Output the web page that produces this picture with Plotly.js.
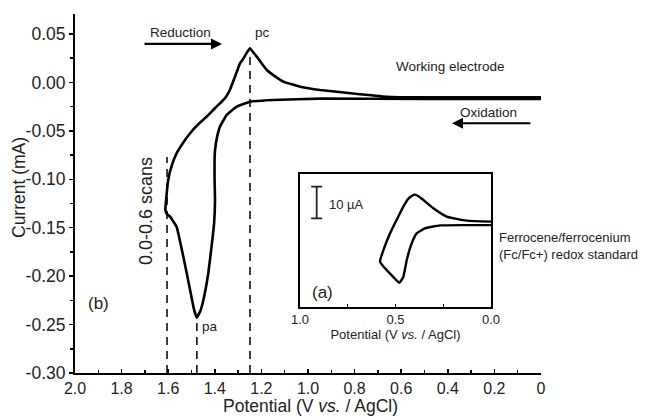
<!DOCTYPE html>
<html>
<head>
<meta charset="utf-8">
<script src="https://cdn.plot.ly/plotly-3.0.1.min.js"></script>
<style>
  html, body { margin: 0; padding: 0; background: #fff; }
  #chart { width: 655px; height: 417px; }
</style>
</head>
<body>
<div id="chart"></div>
<script>
// ---- Main cyclic voltammogram (b): potential (V vs. AgCl) and current (mA)
const mainPotential = [
  0.00, 0.50, 0.662, 0.807, 0.948, 1.034, 1.07, 1.106, 1.14, 1.177, 1.20, 1.22, 1.235, 1.249,
  1.262, 1.276, 1.292, 1.31, 1.335, 1.355, 1.378, 1.405, 1.435, 1.47, 1.506, 1.535, 1.564,
  1.585, 1.600, 1.609, 1.612, 1.605, 1.592, 1.564, 1.535, 1.506, 1.492, 1.478,
  1.462, 1.449, 1.428, 1.414, 1.403, 1.399, 1.401, 1.401, 1.399, 1.390, 1.378,
  1.349, 1.306, 1.249, 1.149, 0.948, 0.50, 0.00
];
const mainCurrent = [
  -0.0155, -0.0155, -0.0148, -0.0115, -0.0078, -0.0044, -0.002, 0.0008, 0.006, 0.0128, 0.020, 0.0266, 0.031, 0.0352,
  0.031, 0.025, 0.0197, 0.008, -0.0076, -0.016, -0.0216, -0.028, -0.0354, -0.043, -0.0525, -0.062, -0.0732,
  -0.086, -0.1007, -0.1214, -0.1317, -0.136, -0.1386, -0.149, -0.180, -0.2143, -0.2315, -0.2429,
  -0.236, -0.2246, -0.197, -0.1696, -0.1455, -0.1214, -0.100, -0.080, -0.0698, -0.056, -0.0457,
  -0.0336, -0.0251, -0.0199, -0.0182, -0.0168, -0.0170, -0.0172
];

// ---- Dashed marker lines: potentials and the current they reach up to
const markerPotential = [1.605, 1.477, 1.249];
const markerTop = [-0.077, -0.243, 0.034];
const axisBottom = -0.30;

// ---- Inset (a): ferrocene/ferrocenium standard, potential (V) and current (µA, relative)
const insetPotential = [
  0.000, 0.127, 0.232, 0.302, 0.354, 0.380, 0.398, 0.415, 0.433, 0.459, 0.485, 0.520, 0.550, 0.581,
  0.555, 0.512, 0.480, 0.459, 0.441, 0.415, 0.389, 0.346, 0.267, 0.127, 0.000
];
const insetCurrent = [
  -0.2, 0.1, 1.4, 4.0, 6.6, 7.8, 8.3, 7.9, 7.0, 4.5, 1.4, -2.8, -7.0, -12.8,
  -14.9, -17.6, -19.5, -17.6, -12.3, -7.0, -3.9, -2.3, -1.4, -1.3, -1.3
];
// 10 µA scale bar
const scaleBarPotential = [0.9126];
const scaleBarCenter = [5.85];
const scaleBarHalf = [5];

// ---- Tick labels
const xTickVals = [2.0, 1.8, 1.6, 1.4, 1.2, 1.0, 0.8, 0.6, 0.4, 0.2, 0.0];
const xTickText = ['2.0', '1.8', '1.6', '1.4', '1.2', '1.0', '0.8', '0.6', '0.4', '0.2', '0'];
const yTickVals = [0.05, 0.00, -0.05, -0.10, -0.15, -0.20, -0.25, -0.30];
const yTickText = ['0.05', '0.00', '-0.05', '-0.10', '-0.15', '-0.20', '-0.25', '-0.30'];
const insetTickVals = [1.0, 0.5, 0.0];
const insetTickText = ['1.0', '0.5', '0.0'];

const FONT = '"Liberation Sans", Arial, Helvetica, sans-serif';
const TXT = '#222';

const traces = [];
markerPotential.forEach((v, i) => {
  traces.push({
    x: [v, v], y: [axisBottom, markerTop[i]],
    type: 'scatter', mode: 'lines',
    line: { color: '#111', width: 1.6, dash: '8px,6px' },
    hoverinfo: 'skip', showlegend: false
  });
});
traces.push({
  x: mainPotential, y: mainCurrent,
  type: 'scatter', mode: 'lines',
  line: { color: '#000', width: 2.6, shape: 'spline', smoothing: 0.3 },
  showlegend: false
});
traces.push({
  x: insetPotential, y: insetCurrent,
  xaxis: 'x2', yaxis: 'y2',
  type: 'scatter', mode: 'lines',
  line: { color: '#000', width: 2.4, shape: 'spline', smoothing: 0.4 },
  showlegend: false
});
traces.push({
  x: scaleBarPotential, y: scaleBarCenter,
  xaxis: 'x2', yaxis: 'y2',
  type: 'scatter', mode: 'markers',
  marker: { size: 1, color: '#222' },
  error_y: { type: 'data', array: scaleBarHalf, visible: true, color: '#222', thickness: 1.8, width: 5.5 },
  showlegend: false
});

const layout = {
  width: 655, height: 417,
  margin: { l: 75, r: 114, t: 14, b: 44, pad: 0 },
  paper_bgcolor: '#fff', plot_bgcolor: 'rgba(0,0,0,0)',
  font: { family: FONT, color: TXT, size: 15 },
  showlegend: false,
  xaxis: {
    range: [2.0, 0.0], autorange: false,
    domain: [0, 1],
    showline: true, linecolor: '#000', linewidth: 2,
    showgrid: false, zeroline: false,
    tickmode: 'array', tickvals: xTickVals, ticktext: xTickText,
    ticks: 'inside', ticklen: 4, tickwidth: 1.5, tickcolor: '#000',
    minor: { ticks: 'inside', dtick: 0.1, tick0: 0, ticklen: 3, tickwidth: 1.5, tickcolor: '#000', showgrid: false },
    tickfont: { family: FONT, size: 16, color: TXT },
    automargin: false
  },
  yaxis: {
    range: [-0.30, 0.0706], autorange: false,
    domain: [0, 1],
    showline: true, linecolor: '#000', linewidth: 2,
    showgrid: false, zeroline: false,
    tickmode: 'array', tickvals: yTickVals, ticktext: yTickText,
    ticks: 'outside', ticklen: 4, tickwidth: 1.5, tickcolor: '#000',
    minor: { ticks: 'outside', dtick: 0.025, tick0: 0, ticklen: 3, tickwidth: 1.5, tickcolor: '#000', showgrid: false },
    tickfont: { family: FONT, size: 17.5, color: TXT },
    automargin: false
  },
  xaxis2: {
    anchor: 'y2', domain: [0.4828, 0.8927],
    range: [1.0, 0.0], autorange: false,
    showline: true, mirror: true, linecolor: '#000', linewidth: 2,
    showgrid: false, zeroline: false,
    tickmode: 'array', tickvals: insetTickVals, ticktext: insetTickText,
    ticks: 'inside', ticklen: 3, tickwidth: 1.2, tickcolor: '#000',
    minor: { ticks: 'inside', dtick: 0.25, tick0: 0, ticklen: 3, tickwidth: 1.2, tickcolor: '#000', showgrid: false },
    tickfont: { family: FONT, size: 13, color: TXT },
    title: { text: 'Potential (V <i>vs.</i> / AgCl)', font: { family: FONT, size: 13, color: TXT }, standoff: 0 },
    automargin: false
  },
  yaxis2: {
    anchor: 'x2', domain: [0.1847, 0.5543],
    range: [-27, 14.8], autorange: false,
    showline: true, mirror: true, linecolor: '#000', linewidth: 2,
    showgrid: false, zeroline: false,
    showticklabels: false, ticks: '',
    automargin: false
  },
  annotations: [
    { xref: 'paper', yref: 'paper', x: (19 - 75) / 466, y: (373 - 188) / 359, text: 'Current (mA)',
      showarrow: false, font: { size: 17.5 }, textangle: -90, xanchor: 'center', yanchor: 'middle' },
    { xref: 'paper', yref: 'paper', x: (310 - 75) / 466, y: (373 - 417) / 359, text: 'Potential (V <i>vs.</i> / AgCl)',
      showarrow: false, font: { size: 17.5 }, xanchor: 'center', yanchor: 'bottom', borderpad: 0 },
    { xref: 'x', yref: 'y', x: 1.369, y: 0.0397, ax: 1.708, ay: 0.0397, axref: 'x', ayref: 'y',
      showarrow: true, arrowhead: 2, arrowsize: 1, arrowwidth: 2.2, arrowcolor: '#000', text: '' },
    { xref: 'x', yref: 'y', x: 0.382, y: -0.0422, ax: 0.039, ay: -0.0422, axref: 'x', ayref: 'y',
      showarrow: true, arrowhead: 2, arrowsize: 1, arrowwidth: 2.2, arrowcolor: '#000', text: '' },
    { xref: 'paper', yref: 'paper', x: (180 - 75) / 466, y: (373 - 33) / 359, text: 'Reduction',
      showarrow: false, font: { size: 13.5 }, xanchor: 'center', yanchor: 'middle' },
    { xref: 'paper', yref: 'paper', x: (262 - 75) / 466, y: (373 - 33) / 359, text: 'pc',
      showarrow: false, font: { size: 13.5 }, xanchor: 'center', yanchor: 'middle' },
    { xref: 'paper', yref: 'paper', x: (450 - 75) / 466, y: (373 - 66) / 359, text: 'Working electrode',
      showarrow: false, font: { size: 13.5 }, xanchor: 'center', yanchor: 'middle' },
    { xref: 'paper', yref: 'paper', x: (488 - 75) / 466, y: (373 - 112) / 359, text: 'Oxidation',
      showarrow: false, font: { size: 13.5 }, xanchor: 'center', yanchor: 'middle' },
    { xref: 'paper', yref: 'paper', x: (146 - 75) / 466, y: (373 - 211) / 359, text: '0.0-0.6 scans',
      showarrow: false, font: { size: 18 }, textangle: -90, xanchor: 'center', yanchor: 'middle' },
    { xref: 'paper', yref: 'paper', x: (98 - 75) / 466, y: (373 - 303) / 359, text: '(b)',
      showarrow: false, font: { size: 17 }, xanchor: 'center', yanchor: 'middle' },
    { xref: 'paper', yref: 'paper', x: (210 - 75) / 466, y: (373 - 326) / 359, text: 'pa',
      showarrow: false, font: { size: 13.5 }, xanchor: 'center', yanchor: 'middle' },
    { xref: 'paper', yref: 'paper', x: (346 - 75) / 466, y: (373 - 204) / 359, text: '10 µA',
      showarrow: false, font: { size: 13 }, xanchor: 'center', yanchor: 'middle' },
    { xref: 'paper', yref: 'paper', x: (322 - 75) / 466, y: (373 - 292) / 359, text: '(a)',
      showarrow: false, font: { size: 17 }, xanchor: 'center', yanchor: 'middle' },
    { xref: 'paper', yref: 'paper', x: (497 - 75) / 466, y: (373 - 246) / 359,
      text: 'Ferrocene/ferrocenium<br>(Fc/Fc+) redox standard',
      showarrow: false, font: { size: 13 }, xanchor: 'left', yanchor: 'middle', align: 'left' }
  ]
};

Plotly.newPlot('chart', traces, layout, { staticPlot: true, displayModeBar: false });
</script>
</body>
</html>
